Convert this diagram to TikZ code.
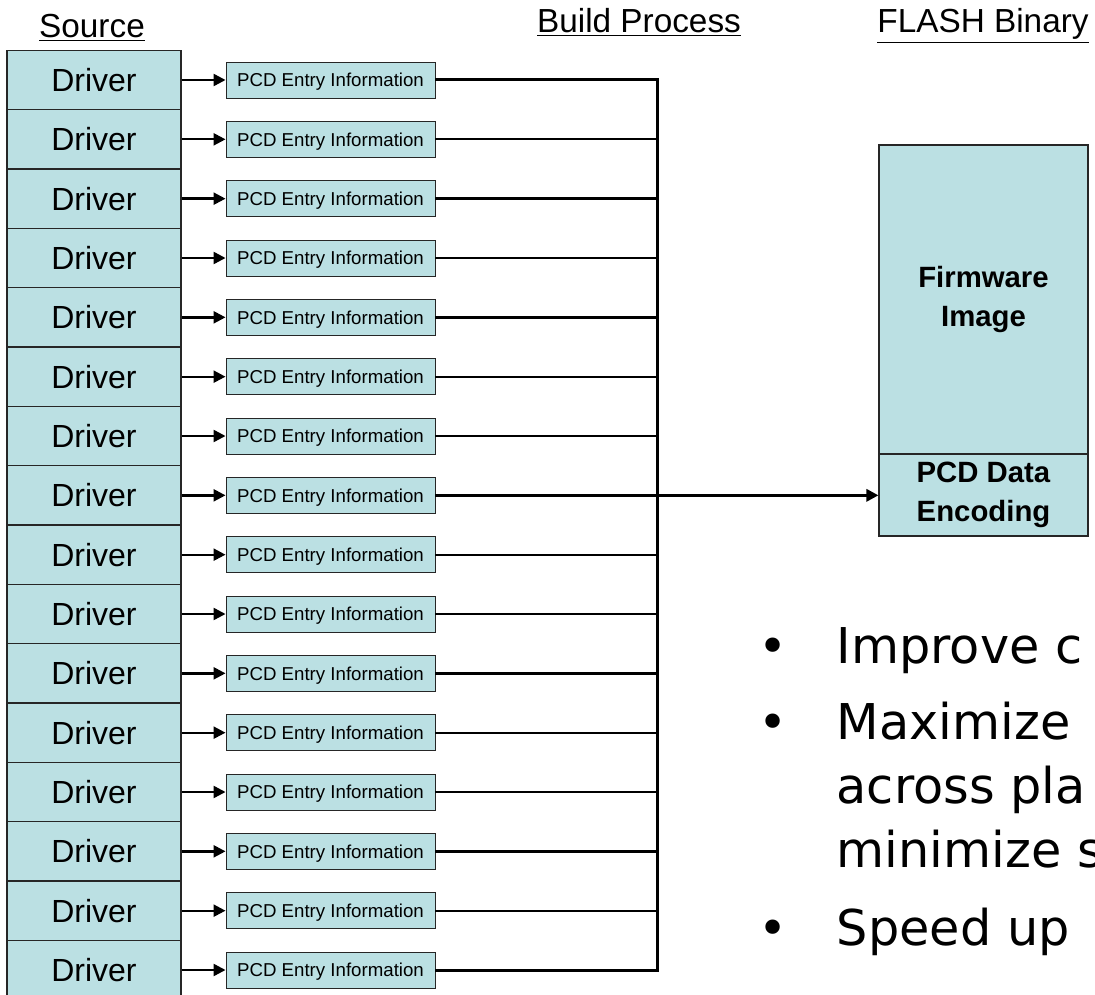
\documentclass[tikz,border=0pt]{standalone}
\usepackage{fontspec}
\setmainfont{Liberation Sans}
\newfontfamily\bulletfont{DejaVu Sans}
\usetikzlibrary{arrows.meta}
\definecolor{BoxBlue}{HTML}{BBE0E3}
\tikzset{
    % Box styles
    driver box/.style={
        rectangle,
        draw=black!85,
        fill=BoxBlue,
        line width=0.8pt,
        inner sep=0pt,
        minimum width=130.5pt,
        minimum height=44.5pt,
        font=\fontsize{24}{28}\selectfont
    },
    entry box/.style={
        driver box,
        line width=0.7pt,
        minimum width=156.75pt,
        minimum height=27pt,
        text depth=0pt,
        font=\fontsize{14}{16}\selectfont
    },
    flash box/.style={
        driver box,
        minimum width=156.75pt,
        align=center,
        font=\fontsize{22}{29}\selectfont\bfseries
    },
    header/.style={
        anchor=base,
        font=\fontsize{25}{30}\selectfont
    },
    bullet text/.style={
        anchor=base west,
        font=\bulletfont\fontsize{37}{44}\selectfont
    },
    bullet dot/.style={
        anchor=base,
        font=\bulletfont\fontsize{37}{44}\selectfont
    },
    arrow style/.style={
        -{Triangle[length=9pt,width=9pt]},
        line width=1.75pt
    },
    bus style/.style={
        line width=1.75pt
    }
}

\begin{document}
\begin{tikzpicture}[x=0.75pt, y=-0.75pt]
        \useasboundingbox (0,0) rectangle (1095,995);
        \clip (0,0) rectangle (1095,995);

        % Column headers
        \node[header] (srchead) at (92,38) {\underline{Source}};
        \node[header] (buildhead) at (639,33) {\underline{Build Process}};
        \node[header] (flashhead) at (983,33) {\underline{FLASH Binary}};

        % Drivers and their PCD entries
        \foreach \i in {1,...,16} {
            \pgfmathsetmacro\rowy{80+(\i-1)*59.333}
            \node[driver box] (drv\i) at (94,\rowy) {Driver};
            \node[entry box] (pcd\i) at (330.5,\rowy) {PCD Entry Information};
            \coordinate (bus\i) at (657,\rowy);
            \draw[arrow style] (drv\i) -- (pcd\i);
        }

        % Collecting bus
        \foreach \i in {2,...,15} {
            \draw[bus style] (pcd\i) -- (bus\i);
        }
        \draw[bus style, line width=2.25pt] (pcd1) -- (bus1) -- (bus16) -- (pcd16);

        % FLASH binary
        \node[flash box, minimum height=231.75pt] (fwimage) at (983.5,299.5) {Firmware\\Image};
        \node[flash box, minimum height=61.5pt] (pcddata) at (983.5,495) {PCD Data\\Encoding};
        \draw[arrow style, line width=2.25pt] (bus8) -- (bus8 -| pcddata.west);

        % Goals
        \node[bullet dot] (dot1) at (773,663) {•};
        \node[bullet text] (goal1) at (832,663) {Improve c};
        \node[bullet dot] (dot2) at (773,739) {•};
        \node[bullet text] (goal2a) at (832,739) {Maximize};
        \node[bullet text] (goal2b) at (832,803) {across pla};
        \node[bullet text] (goal2c) at (832,867) {minimize s};
        \node[bullet dot] (dot3) at (773,945) {•};
        \node[bullet text] (goal3) at (832,945) {Speed up};
    \end{tikzpicture}
\end{document}
